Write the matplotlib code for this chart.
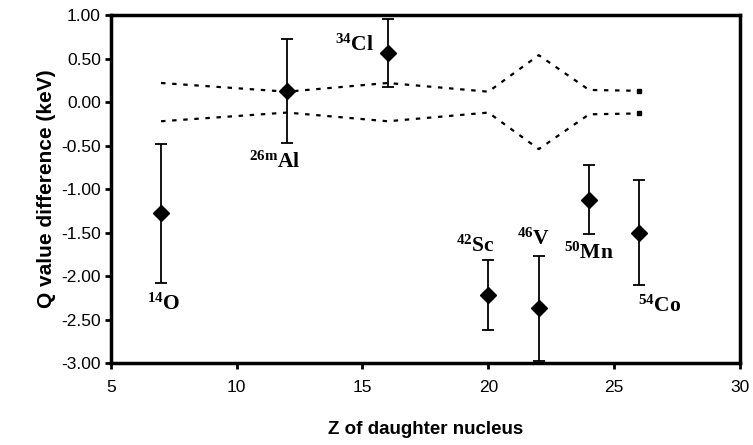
import matplotlib
matplotlib.use("Agg")
from matplotlib import pyplot as plt

# measured nuclides
z_daughter = [7, 12, 16, 20, 22, 24, 26]
q_diff = [-1.28, 0.13, 0.56, -2.22, -2.37, -1.12, -1.50]
q_err = [0.80, 0.60, 0.39, 0.40, 0.60, 0.40, 0.60]
labels = [r"$\mathbf{^{14}}$O", r"$\mathbf{^{26m}}$Al", r"$\mathbf{^{34}}$Cl",
          r"$\mathbf{^{42}}$Sc", r"$\mathbf{^{46}}$V", r"$\mathbf{^{50}}$Mn",
          r"$\mathbf{^{54}}$Co"]
label_x = [7.1, 11.5, 14.7, 19.5, 21.8, 24.0, 26.8]
label_y = [-2.32, -0.69, 0.65, -1.66, -1.57, -1.74, -2.35]

# uncertainty band
band_z = [7, 12, 16, 20, 22, 24, 26]
band = [0.22, 0.12, 0.22, 0.12, 0.54, 0.14, 0.13]

plt.rcParams['mathtext.fontset'] = 'custom'
plt.rcParams['mathtext.bf'] = 'Liberation Serif:bold'

fig = plt.figure(figsize=(7.53, 4.45), dpi=100)
ax = fig.add_axes([0.147, 0.184, 0.836, 0.782])

ax.plot(band_z, band, color='black', linestyle=(0, (2, 3)), linewidth=1.6)
ax.plot(band_z, [-b for b in band], color='black', linestyle=(0, (2, 3)), linewidth=1.6)
# square end caps of the band
ax.plot(band_z[-1:], band[-1:], 's', color='black', markersize=3)
ax.plot(band_z[-1:], [-band[-1]], 's', color='black', markersize=3)

ax.errorbar(z_daughter, q_diff, yerr=q_err, fmt='D', color='black',
            markersize=8, elinewidth=1.3, capsize=4.5, capthick=1.3)

for lx, ly, lab in zip(label_x, label_y, labels):
    ax.text(lx, ly, lab, ha='center', va='center', fontsize=15.5,
            family='Liberation Serif', fontweight='bold')

ax.set_xlim(5, 30)
ax.set_ylim(-3, 1)
ax.set_xticks([5, 10, 15, 20, 25, 30])
ax.set_yticks([-3, -2.5, -2, -1.5, -1, -0.5, 0, 0.5, 1])
ax.set_yticklabels(['%.2f' % v for v in ax.get_yticks()])
for sp in ax.spines.values():
    sp.set_linewidth(2.5)
ax.tick_params(direction='out', length=4, width=2, labelsize=12.5)
for lab in ax.get_xticklabels() + ax.get_yticklabels():
    lab.set_family('Liberation Sans')
ax.tick_params(axis='x', pad=8)
ax.tick_params(axis='y', pad=3)

ax.set_xlabel('Z of daughter nucleus', fontsize=13.5, fontweight='bold',
              family='Liberation Sans', labelpad=19)
ax.set_ylabel('Q value difference (keV)', fontsize=15, fontweight='bold',
              family='Liberation Sans', labelpad=4)

fig.savefig('out.png', dpi=100)
